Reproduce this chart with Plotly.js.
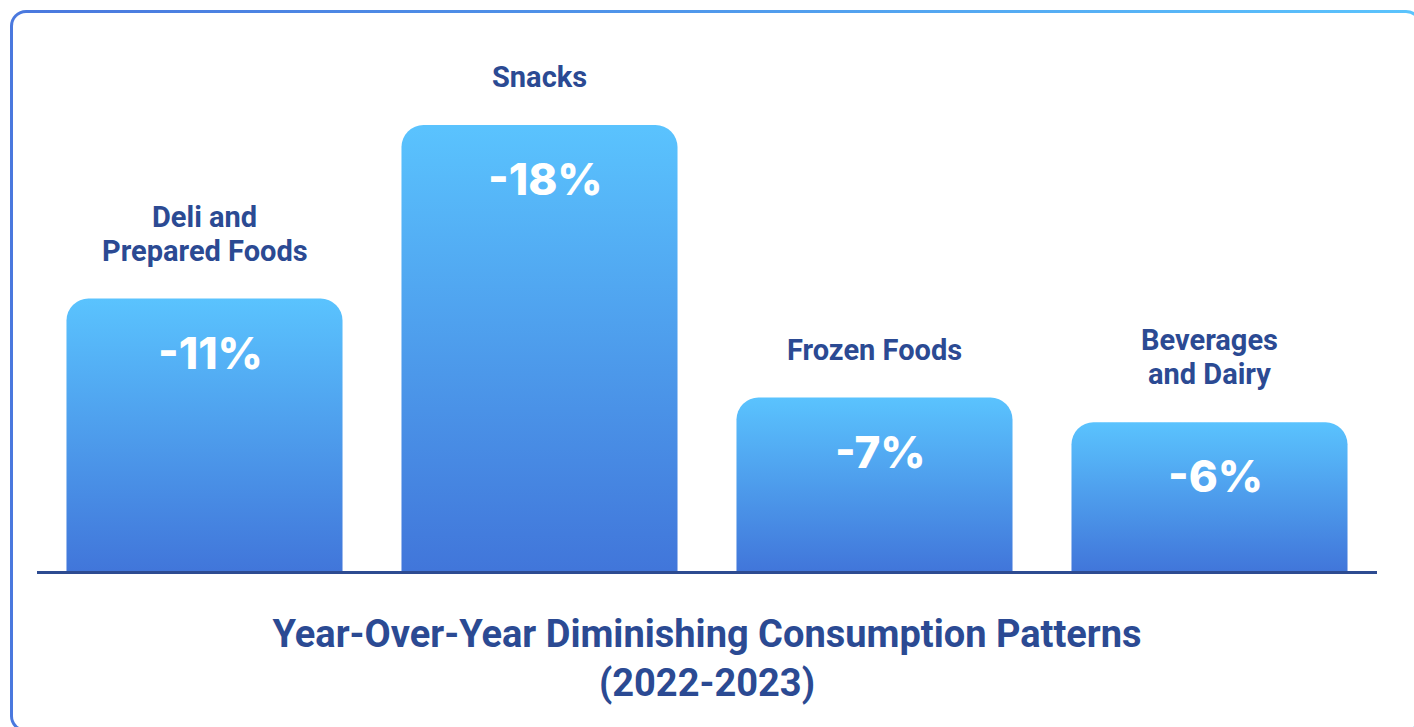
<!DOCTYPE html>
<html>
<head>
<meta charset="utf-8">
<script src="https://cdn.plot.ly/plotly-3.0.1.min.js"></script>
<style>
  html, body { margin: 0; padding: 0; background: #ffffff; }
  #wrap { position: relative; width: 1414px; height: 727px; overflow: hidden; background: #ffffff; }
  #frame { position: absolute; left: 10px; top: 10px; width: 1412px; height: 722px; border-radius: 16px;
           background: linear-gradient(to right, #4a78de 0%, #4f95ea 45%, #5bc4fd 100%); }
  #frameInner { position: absolute; left: 3px; top: 3px; right: 3px; bottom: 3px; border-radius: 13px; background: #ffffff; }
  #chart { position: absolute; left: 0; top: 0; width: 1414px; height: 727px; }
</style>
</head>
<body>
<div id="wrap">
  <div id="frame"><div id="frameInner"></div></div>
  <div id="chart"></div>
</div>
<script>
// ---- data ----
const categories = ["Deli and<br>Prepared Foods", "Snacks", "Frozen Foods", "Beverages<br>and Dairy"];
const changes = [-11, -18, -7, -6];            // year-over-year change, %
const valueLabels = ["-11%", "-18%", "-7%", "-6%"];
const chartTitle = "Year-Over-Year Diminishing Consumption Patterns<br>(2022-2023)";

// ---- styling ----
const navy = "#2b4a93";
const heights = changes.map(v => Math.abs(v));

const barTrace = {
  type: "bar",
  x: categories,
  y: heights,
  width: 0.824,
  marker: { color: "#4f9bee", line: { width: 0 }, cornerradius: 22 },
  hoverinfo: "skip"
};

const annotations = [];
categories.forEach((c, i) => {
  annotations.push({
    x: c, y: heights[i], xref: "x", yref: "y",
    text: valueLabels[i], showarrow: false,
    yanchor: "middle", yshift: -54, xshift: 6,
    font: { family: "Inter, Roboto, sans-serif", size: 44, color: "#ffffff", weight: 800 }
  });
  const lines = c.split("<br>");
  lines.forEach((ln, j) => {
    annotations.push({
      x: c, y: heights[i], xref: "x", yref: "y",
      text: ln, showarrow: false,
      yanchor: "middle", yshift: 48 + 34 * (lines.length - 1 - j),
      font: { family: "Roboto, sans-serif", size: 29, color: navy, weight: 700 }
    });
  });
});

const layout = {
  width: 1414, height: 727,
  paper_bgcolor: "rgba(0,0,0,0)",
  plot_bgcolor: "rgba(0,0,0,0)",
  margin: { l: 37, r: 37, t: 26, b: 156 },
  showlegend: false,
  xaxis: {
    showticklabels: false, ticks: "", showgrid: false, zeroline: false,
    showline: true, linecolor: "#2d4b91", linewidth: 3, fixedrange: true
  },
  yaxis: {
    range: [0, 22], visible: false, showgrid: false, zeroline: false, fixedrange: true
  },
  title: {
    text: chartTitle,
    x: 0.5, xanchor: "center",
    y: 1 - 647 / 727, yref: "container", yanchor: "middle",
    font: { family: "Roboto, sans-serif", size: 38, color: navy, weight: 700 }
  },
  annotations: annotations
};

Plotly.newPlot("chart", [barTrace], layout, { staticPlot: true, displayModeBar: false }).then(gd => {
  // vertical gradient fill for each bar (light top -> deeper blue bottom)
  const svgNS = "http://www.w3.org/2000/svg";
  const mainSvg = gd.querySelector(".main-svg");
  let defs = mainSvg.querySelector("defs");
  if (!defs) { defs = document.createElementNS(svgNS, "defs"); mainSvg.insertBefore(defs, mainSvg.firstChild); }
  const grad = document.createElementNS(svgNS, "linearGradient");
  grad.setAttribute("id", "barGrad");
  grad.setAttribute("x1", "0"); grad.setAttribute("y1", "0");
  grad.setAttribute("x2", "0"); grad.setAttribute("y2", "1");
  [["0%", "#5ac3fe"], ["100%", "#4176da"]].forEach(([o, c]) => {
    const s = document.createElementNS(svgNS, "stop");
    s.setAttribute("offset", o); s.setAttribute("stop-color", c);
    grad.appendChild(s);
  });
  defs.appendChild(grad);
  gd.querySelectorAll(".barlayer .point path").forEach(p => { p.style.fill = "url(#barGrad)"; });
});
</script>
</body>
</html>
